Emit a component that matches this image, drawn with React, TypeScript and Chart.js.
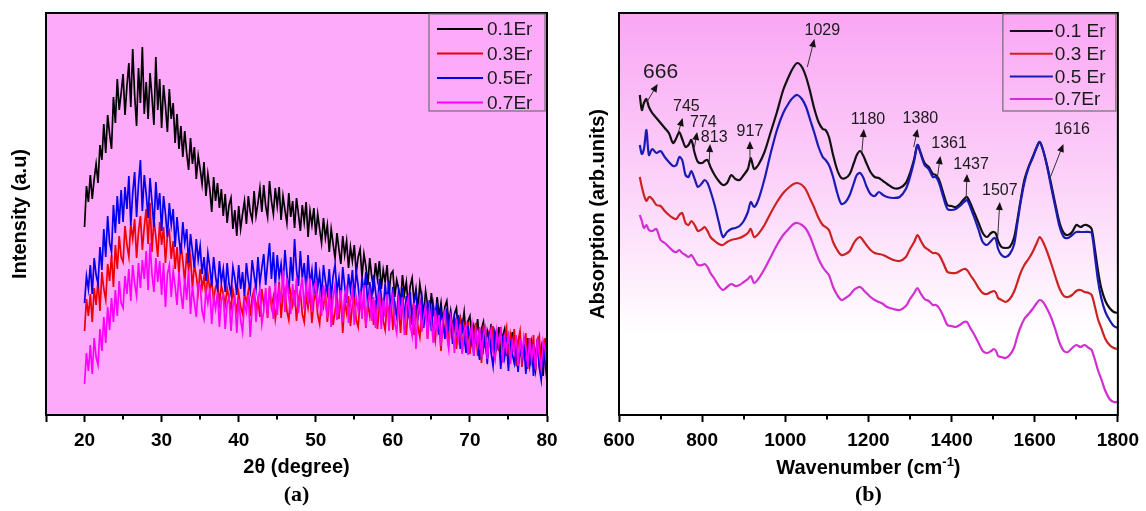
import { useEffect, useRef } from 'react';
import { Chart, registerables } from 'chart.js';

Chart.register(...registerables);

const SANS = '"Liberation Sans", Arial, Helvetica, sans-serif';
const SERIF = '"Liberation Serif", "Times New Roman", serif';

// ---------- (a) XRD patterns: intensity sampled every 0.25° from 20° to 80° ----------
const XRD_START = 20;
const XRD_STEP = 0.25;

const XRD_01ER = [
  188, 229, 213, 240, 216, 236, 251, 232, 270, 255, 291, 262, 300, 281, 266, 318, 292, 336, 305, 322,
  341, 300, 329, 352, 308, 366, 320, 289, 347, 312, 368, 301, 333, 296, 342, 318, 290, 358, 305, 336,
  287, 330, 309, 283, 326, 296, 312, 272, 301, 266, 289, 258, 284, 262, 245, 277, 251, 268, 236, 259,
  246, 231, 253, 219, 241, 226, 203, 238, 214, 232, 207, 226, 199, 221, 192, 210, 217, 186, 205, 179,
  209, 186, 201, 214, 191, 219, 203, 195, 224, 199, 212, 227, 203, 230, 209, 198, 234, 214, 201, 227,
  209, 228, 195, 219, 205, 192, 222, 198, 214, 187, 217, 201, 184, 210, 193, 213, 178, 204, 190, 207,
  180, 201, 186, 172, 197, 177, 190, 163, 186, 171, 157, 182, 166, 151, 179, 160, 174, 147, 168, 154,
  170, 142, 158, 166, 138, 161, 149, 130, 157, 139, 127, 152, 136, 154, 126, 145, 133, 150, 121, 141,
  144, 118, 135, 126, 112, 140, 121, 133, 108, 129, 137, 113, 126, 105, 131, 118, 100, 124, 110, 99,
  122, 103, 96, 118, 99, 112, 91, 108, 114, 92, 104, 86, 101, 107, 83, 97, 88, 103, 78, 94,
  99, 74, 89, 80, 96, 70, 86, 93, 67, 84, 76, 91, 64, 82, 71, 88, 61, 79, 86, 59,
  77, 58, 83, 66, 54, 74, 80, 52, 69, 61, 77, 49, 72, 58, 45, 76, 53, 67, 39, 73,
  36,
];

const XRD_03ER = [
  84, 116, 99, 121, 93, 127, 110, 135, 104, 143, 126, 115, 151, 134, 160, 128, 170, 146, 179, 158,
  153, 189, 170, 158, 191, 176, 196, 157, 183, 199, 165, 188, 206, 171, 212, 163, 196, 178, 158, 193,
  170, 188, 152, 179, 184, 156, 174, 146, 168, 141, 172, 154, 133, 162, 145, 158, 127, 150, 139, 123,
  146, 127, 138, 118, 141, 125, 134, 115, 128, 133, 112, 129, 121, 110, 127, 116, 106, 125, 114, 104,
  122, 108, 101, 120, 113, 124, 99, 118, 125, 105, 116, 98, 126, 110, 121, 97, 127, 108, 118, 96,
  112, 133, 97, 120, 126, 104, 95, 122, 110, 125, 94, 116, 124, 101, 93, 119, 107, 123, 92, 114,
  123, 100, 91, 117, 108, 122, 93, 112, 121, 90, 104, 118, 96, 120, 82, 113, 102, 119, 89, 110,
  119, 95, 88, 114, 103, 118, 87, 111, 99, 118, 90, 115, 86, 108, 117, 94, 85, 112, 100, 116,
  85, 114, 98, 108, 82, 113, 95, 80, 111, 91, 105, 80, 110, 88, 78, 104, 93, 108, 76, 99,
  106, 85, 74, 101, 90, 64, 97, 82, 100, 69, 93, 78, 97, 66, 87, 95, 63, 89, 75, 93,
  61, 88, 74, 92, 59, 83, 52, 90, 70, 57, 85, 66, 89, 55, 80, 64, 88, 53, 76, 87,
  51, 80, 68, 86, 49, 74, 84, 48, 66, 82, 46, 77, 58, 80, 44, 72, 79, 43, 63, 77,
  44,
];

const XRD_05ER = [
  112, 139, 126, 150, 121, 157, 140, 131, 168, 145, 186, 158, 199, 172, 163, 210, 182, 219, 191, 225,
  193, 228, 206, 239, 190, 222, 243, 198, 231, 255, 204, 240, 221, 197, 237, 213, 188, 233, 205, 222,
  184, 219, 201, 178, 212, 190, 206, 168, 198, 176, 161, 193, 172, 186, 152, 181, 164, 147, 176, 155,
  169, 141, 158, 134, 162, 148, 129, 158, 139, 125, 154, 133, 146, 123, 152, 131, 121, 148, 137, 120,
  150, 126, 143, 119, 152, 135, 124, 155, 140, 127, 158, 132, 147, 161, 130, 152, 172, 136, 163, 129,
  160, 138, 151, 129, 165, 142, 121, 158, 134, 176, 145, 129, 164, 137, 152, 124, 160, 131, 145, 121,
  153, 127, 141, 118, 150, 134, 122, 146, 117, 139, 150, 124, 137, 114, 148, 129, 112, 141, 125, 145,
  118, 144, 129, 110, 138, 122, 143, 107, 133, 116, 140, 124, 106, 136, 118, 104, 131, 112, 134, 101,
  128, 108, 99, 124, 112, 127, 94, 119, 103, 123, 90, 114, 121, 97, 108, 118, 87, 112, 98, 115,
  84, 110, 96, 113, 80, 104, 93, 76, 107, 88, 99, 71, 97, 84, 100, 66, 91, 78, 62, 89,
  74, 90, 59, 84, 70, 55, 86, 66, 79, 51, 83, 62, 49, 80, 67, 75, 46, 79, 58, 72,
  44, 75, 61, 52, 73, 43, 68, 57, 73, 41, 65, 50, 72, 39, 62, 73, 47, 35, 70, 55,
  33,
];

const XRD_07ER = [
  31, 62, 44, 70, 41, 77, 58, 50, 86, 64, 98, 72, 108, 85, 117, 93, 125, 99, 134, 112,
  107, 139, 121, 146, 114, 150, 132, 119, 152, 127, 155, 136, 164, 125, 172, 141, 123, 157, 133, 154,
  120, 152, 108, 141, 150, 118, 144, 129, 110, 143, 122, 106, 137, 115, 145, 101, 129, 112, 98, 131,
  130, 104, 96, 124, 112, 127, 91, 118, 106, 123, 88, 115, 120, 86, 111, 118, 84, 109, 117, 82,
  116, 95, 83, 112, 103, 120, 78, 108, 122, 93, 117, 125, 91, 104, 127, 98, 129, 113, 96, 132,
  100, 126, 112, 145, 103, 137, 118, 101, 131, 109, 137, 102, 124, 138, 106, 130, 115, 137, 103, 128,
  133, 106, 121, 99, 130, 114, 97, 127, 88, 118, 130, 95, 109, 125, 93, 120, 127, 92, 113, 124,
  90, 117, 105, 124, 96, 130, 88, 112, 123, 94, 118, 87, 109, 123, 86, 115, 98, 121, 84, 108,
  120, 92, 82, 114, 101, 118, 80, 109, 117, 90, 79, 112, 66, 104, 113, 83, 98, 110, 76, 106,
  93, 72, 105, 84, 100, 69, 95, 103, 79, 66, 98, 88, 62, 96, 76, 91, 61, 84, 90, 60,
  77, 90, 59, 85, 70, 88, 58, 80, 87, 56, 74, 86, 63, 55, 84, 71, 83, 52, 77, 65,
  82, 51, 73, 62, 80, 49, 76, 58, 78, 68, 48, 77, 55, 71, 46, 77, 60, 47, 74, 66,
  48,
];

const XRD_LABELS = ['0.1Er', '0.3Er', '0.5Er', '0.7Er'];
const XRD_COLORS = ['#000000', '#ee0000', '#0000ee', '#ff00ff'];
const XRD_TICKS = [15, 20, 30, 40, 50, 60, 70, 80];
const XRD_MINOR = [25, 35, 45, 55, 65, 75];

// ---------- (b) FTIR absorption spectra ----------
const WAVENUMBER = [
  650, 655, 660, 666, 672, 680, 690, 700, 710, 720,
  730, 738, 745, 752, 760, 767, 774, 782, 790, 800,
  806, 813, 820, 830, 840, 850, 860, 870, 880, 890,
  900, 910, 917, 925, 935, 950, 965, 980, 995, 1010,
  1020, 1029, 1040, 1050, 1060, 1070, 1080, 1090, 1097, 1105,
  1115, 1125, 1135, 1145, 1155, 1165, 1172, 1180, 1188, 1195,
  1205, 1215, 1225, 1235, 1245, 1260, 1275, 1290, 1300, 1310,
  1318, 1325, 1335, 1345, 1355, 1362, 1370, 1380, 1390, 1400,
  1410, 1420, 1430, 1437, 1445, 1455, 1465, 1475, 1485, 1495,
  1502, 1507, 1512, 1520, 1530, 1540, 1550, 1557, 1565, 1575,
  1585, 1595, 1605, 1612, 1620, 1630, 1640, 1650, 1660, 1670,
  1680, 1690, 1700, 1710, 1720, 1730, 1737, 1745, 1752, 1760,
  1770, 1780, 1790, 1800,
];

const FTIR_01ER = [
  320, 305, 312, 316, 308, 302, 297, 292, 287, 282,
  272, 277, 283, 276, 268, 270, 275, 262, 253, 252,
  254, 255, 248, 240, 234, 230, 232, 240, 236, 235,
  240, 246, 257, 246, 250, 263, 283, 303, 325, 340,
  348, 352, 348, 338, 323, 306, 293, 286, 285, 278,
  260, 245, 237, 237, 241, 252, 260, 264, 259, 252,
  243, 238, 237, 234, 231, 227, 227, 232, 242, 256,
  270, 263, 252, 248, 241, 240, 235, 222, 210, 209,
  208, 211, 216, 218, 212, 202, 192, 182, 178, 182,
  183, 181, 174, 168, 167, 168, 177, 192, 212, 235,
  248, 258, 268, 273, 265, 249, 230, 210, 192, 182,
  180, 183, 190, 188, 190, 189, 186, 165, 145, 127,
  114, 107, 103, 102,
];

const FTIR_03ER = [
  238, 228, 220, 214, 218, 216, 210, 209, 204, 200,
  197, 196, 200, 202, 192, 190, 194, 190, 184, 186,
  188, 184, 178, 174, 171, 170, 173, 175, 176, 177,
  179, 182, 186, 178, 181, 190, 202, 213, 222, 228,
  231, 232, 230, 225, 216, 207, 197, 190, 188, 185,
  173, 165, 160, 161, 164, 172, 176, 178, 174, 170,
  165, 162, 161, 160, 158, 155, 154, 158, 166, 173,
  180, 175, 168, 165, 162, 162, 160, 152, 143, 142,
  142, 144, 146, 145, 140, 134, 127, 122, 121, 123,
  124, 122, 117, 115, 113, 116, 123, 131, 141, 150,
  156, 163, 172, 178, 173, 163, 151, 138, 126, 119,
  118, 120, 124, 125, 123, 122, 120, 108, 96, 87,
  76, 70, 67, 66,
];

const FTIR_05ER = [
  270, 261, 266, 285, 260, 266, 262, 264, 258, 253,
  249, 250, 258, 255, 240, 238, 244, 236, 228, 232,
  235, 232, 224, 210, 193, 178, 183, 186, 187, 189,
  194, 203, 213, 208, 215, 236, 262, 285, 302, 313,
  318, 320, 316, 308, 295, 282, 268, 258, 255, 250,
  238, 222, 211, 213, 220, 232, 240, 242, 237, 229,
  221, 219, 223, 220, 218, 217, 218, 226, 238, 254,
  270, 262, 250, 246, 238, 238, 232, 218, 206, 205,
  206, 209, 213, 215, 208, 197, 185, 173, 170, 174,
  177, 175, 166, 160, 158, 161, 170, 188, 210, 232,
  247, 257, 268, 273, 265, 248, 227, 207, 188, 178,
  177, 180, 183, 183, 183, 183, 182, 158, 135, 117,
  103, 95, 89, 87,
];

const FTIR_07ER = [
  200, 194, 187, 190, 185, 184, 186, 175, 172, 168,
  164, 163, 165, 162, 160, 158, 160, 155, 150, 150,
  151, 148, 142, 136, 129, 125, 128, 131, 129, 130,
  133, 136, 139, 132, 136, 146, 158, 170, 180, 187,
  191, 192, 190, 186, 178, 167, 156, 148, 144, 140,
  128, 120, 115, 117, 120, 125, 127, 128, 125, 122,
  118, 115, 113, 111, 108, 106, 105, 109, 116, 122,
  127, 122, 116, 114, 110, 110, 107, 99, 90, 89,
  88, 90, 93, 93, 87, 80, 72, 64, 62, 64,
  66, 64, 59, 58, 57, 60, 67, 77, 87, 96,
  101, 106, 112, 115, 113, 106, 97, 85, 72, 64,
  63, 67, 70, 68, 70, 67, 65, 55, 45, 36,
  24, 16, 13, 13,
];

const FTIR_LABELS = ['0.1 Er', '0.3 Er', '0.5 Er', '0.7Er'];
const FTIR_COLORS = ['#111111', '#cc2222', '#1a1ab4', '#d22fd2'];
const FTIR_TICKS = [600, 800, 1000, 1200, 1400, 1600, 1800];
const FTIR_MINOR = [700, 900, 1100, 1300, 1500, 1700];

// Band assignments: label, label anchor (wavenumber, absorption) and arrow tail -> head
const PEAK_NAMES = ['666', '745', '774', '813', '917', '1029', '1180', '1380', '1361', '1437', '1507', '1616'];
const PEAK_LABEL_AT = [
  [700, 343], [762, 308], [803, 292], [829, 277], [915, 283], [1089, 384],
  [1199, 295], [1325, 296], [1394, 271], [1447, 250], [1516, 224], [1690, 285],
];
const PEAK_ARROWS = [
  [667, 313, 693, 331], [743, 283, 753, 297], [781, 267, 788, 283], [817, 252, 819, 271],
  [915, 255, 915, 274], [1053, 348, 1070, 376], [1184, 262, 1189, 286], [1309, 268, 1318, 286],
  [1366, 238, 1373, 259], [1435, 217, 1437, 241], [1511, 178, 1516, 213], [1635, 235, 1669, 271],
];

type LegendSpec = {
  labels: string[];
  colors: string[];
  width: number;
  height: number;
  firstRow: number;
  rowGap: number;
  lineStart: number;
  lineEnd: number;
  textX: number;
};

type DecorSpec = {
  fill: (ctx: CanvasRenderingContext2D, a: any) => string | CanvasGradient;
  minor: number[];
  legend: LegendSpec;
  tag: string;
  wavenumberTitle: boolean;
  peaks: boolean;
};

function makeDecor(d: DecorSpec) {
  return {
    id: 'panelDecor',
    beforeDraw(chart: any) {
      const { ctx, chartArea: a } = chart;
      ctx.save();
      ctx.fillStyle = d.fill(ctx, a);
      ctx.fillRect(a.left, a.top, a.right - a.left, a.bottom - a.top);
      ctx.restore();
    },
    afterDatasetsDraw(chart: any) {
      if (!d.peaks) return;
      const { ctx } = chart;
      const xs = chart.scales.x;
      const ys = chart.scales.y;
      ctx.save();
      PEAK_NAMES.forEach((name, i) => {
        const [x0, y0, x1, y1] = PEAK_ARROWS[i];
        const px0 = xs.getPixelForValue(x0);
        const py0 = ys.getPixelForValue(y0);
        const px1 = xs.getPixelForValue(x1);
        const py1 = ys.getPixelForValue(y1);
        const ang = Math.atan2(py1 - py0, px1 - px0);
        const head = 8;
        ctx.strokeStyle = '#333';
        ctx.lineWidth = 1;
        ctx.beginPath();
        ctx.moveTo(px0, py0);
        ctx.lineTo(px1 - Math.cos(ang) * head * 0.6, py1 - Math.sin(ang) * head * 0.6);
        ctx.stroke();
        ctx.fillStyle = '#111';
        ctx.beginPath();
        ctx.moveTo(px1, py1);
        ctx.lineTo(px1 - Math.cos(ang) * head + Math.sin(ang) * 3.5, py1 - Math.sin(ang) * head - Math.cos(ang) * 3.5);
        ctx.lineTo(px1 - Math.cos(ang) * head - Math.sin(ang) * 3.5, py1 - Math.sin(ang) * head + Math.cos(ang) * 3.5);
        ctx.closePath();
        ctx.fill();
        const [tx, ty] = PEAK_LABEL_AT[i];
        ctx.fillStyle = '#1a1a1a';
        ctx.font = `${name === '666' ? 21 : 16}px ${SANS}`;
        ctx.textAlign = 'center';
        ctx.textBaseline = 'middle';
        ctx.fillText(name, xs.getPixelForValue(tx), ys.getPixelForValue(ty));
      });
      ctx.restore();
    },
    afterDraw(chart: any) {
      const { ctx, chartArea: a } = chart;
      const xs = chart.scales.x;
      ctx.save();
      // minor ticks
      ctx.strokeStyle = '#000';
      ctx.lineWidth = 2;
      d.minor.forEach((v) => {
        const px = Math.round(xs.getPixelForValue(v));
        ctx.beginPath();
        ctx.moveTo(px, a.bottom);
        ctx.lineTo(px, a.bottom + 4.5);
        ctx.stroke();
      });
      // frame
      ctx.strokeRect(a.left, a.top, a.right - a.left, a.bottom - a.top);

      // legend
      const L = d.legend;
      const bx = a.right - 2 - L.width;
      const by = a.top + 1;
      ctx.strokeStyle = '#6e6e6e';
      ctx.lineWidth = 1.2;
      ctx.strokeRect(bx, by, L.width, L.height);
      ctx.font = `19px ${SANS}`;
      ctx.textAlign = 'left';
      ctx.textBaseline = 'middle';
      L.labels.forEach((lab, i) => {
        const ry = by + L.firstRow + i * L.rowGap;
        ctx.strokeStyle = L.colors[i];
        ctx.lineWidth = 2;
        ctx.beginPath();
        ctx.moveTo(bx + L.lineStart, ry);
        ctx.lineTo(bx + L.lineEnd, ry);
        ctx.stroke();
        ctx.fillStyle = '#1a1a1a';
        ctx.fillText(lab, bx + L.textX, ry + 1);
      });

      const cx = (a.left + a.right) / 2;
      // x-axis title with superscript
      if (d.wavenumberTitle) {
        const main = 'Wavenumber (cm';
        const sup = '-1';
        const close = ')';
        ctx.fillStyle = '#000';
        ctx.textBaseline = 'alphabetic';
        ctx.font = `bold 20px ${SANS}`;
        const w1 = ctx.measureText(main).width;
        const w3 = ctx.measureText(close).width;
        ctx.font = `bold 13px ${SANS}`;
        const w2 = ctx.measureText(sup).width;
        let x = cx - (w1 + w2 + w3) / 2;
        const base = a.bottom + 59;
        ctx.font = `bold 20px ${SANS}`;
        ctx.fillText(main, x, base);
        x += w1;
        ctx.font = `bold 13px ${SANS}`;
        ctx.fillText(sup, x, base - 8);
        x += w2;
        ctx.font = `bold 20px ${SANS}`;
        ctx.fillText(close, x, base);
      }

      // panel tag
      ctx.fillStyle = '#000';
      ctx.font = `bold 22px ${SERIF}`;
      ctx.textAlign = 'center';
      ctx.textBaseline = 'middle';
      ctx.fillText(d.tag, cx, a.bottom + 80);
      ctx.restore();
    },
  };
}

type AxisSpec = {
  min: number;
  max: number;
  ticks: number[];
  hideMinLabel: boolean;
  xTitle: string;
  yTitle: string;
  yTitlePad: number;
  padRight: number;
};

function panelOptions(p: AxisSpec): any {
  const titleFont = { family: SANS, size: 20, weight: 'bold' as const };
  return {
    responsive: false,
    animation: false,
    devicePixelRatio: 1,
    layout: { padding: { left: 0, top: 13, right: p.padRight, bottom: 0 } },
    plugins: {
      legend: { display: false },
      tooltip: { enabled: false },
      title: { display: false },
    },
    elements: { point: { radius: 0 } },
    scales: {
      x: {
        type: 'linear',
        min: p.min,
        max: p.max,
        afterBuildTicks: (s: any) => {
          s.ticks = p.ticks.map((v) => ({ value: v }));
        },
        afterFit: (s: any) => {
          s.height = 96;
        },
        ticks: {
          color: '#000',
          padding: 7,
          autoSkip: false,
          maxRotation: 0,
          font: { family: SANS, size: 19, weight: 'bold' },
          callback: (v: number) => (p.hideMinLabel && v === p.min ? '' : String(v)),
        },
        grid: {
          display: true,
          drawOnChartArea: false,
          drawTicks: true,
          tickLength: 7,
          tickWidth: 2,
          tickColor: '#000',
        },
        border: { display: true, color: '#000', width: 2 },
        title: {
          display: p.xTitle !== '',
          text: p.xTitle,
          color: '#000',
          font: titleFont,
          padding: { top: 0, bottom: 32 },
        },
      },
      y: {
        type: 'linear',
        min: 0,
        max: 402,
        afterFit: (s: any) => {
          s.width = 46;
        },
        ticks: { display: false },
        grid: { display: false },
        border: { display: true, color: '#000', width: 2 },
        title: {
          display: true,
          text: p.yTitle,
          color: '#000',
          font: titleFont,
          padding: { top: p.yTitlePad, bottom: 0 },
        },
      },
    },
  };
}

const xrdPoints = (vals: number[]) => vals.map((y, i) => ({ x: XRD_START + i * XRD_STEP, y }));
const ftirPoints = (vals: number[]) => WAVENUMBER.map((x, i) => ({ x, y: vals[i] }));

export default function App() {
  const leftRef = useRef<HTMLCanvasElement | null>(null);
  const rightRef = useRef<HTMLCanvasElement | null>(null);

  useEffect(() => {
    if (!leftRef.current || !rightRef.current) return;
    Chart.defaults.font.family = SANS;

    const xrdSeries = [XRD_01ER, XRD_03ER, XRD_05ER, XRD_07ER];
    // last-listed concentration is painted on top
    const xrdOrder = [3, 2, 1, 0];
    const left = new Chart(leftRef.current, {
      type: 'line',
      data: {
        datasets: xrdOrder.map((k) => ({
          label: XRD_LABELS[k],
          data: xrdPoints(xrdSeries[k]),
          borderColor: XRD_COLORS[k],
          borderWidth: 1.7,
          pointRadius: 0,
          tension: 0,
          fill: false,
        })),
      },
      options: panelOptions({
        min: 15,
        max: 80,
        ticks: XRD_TICKS,
        hideMinLabel: true,
        xTitle: '2θ (degree)',
        yTitle: 'Intensity (a.u)',
        yTitlePad: 8,
        padRight: 26,
      }),
      plugins: [
        makeDecor({
          fill: () => 'rgb(253,170,250)',
          minor: XRD_MINOR,
          legend: {
            labels: XRD_LABELS,
            colors: XRD_COLORS,
            width: 116,
            height: 97,
            firstRow: 15,
            rowGap: 24.5,
            lineStart: 8,
            lineEnd: 54,
            textX: 58,
          },
          tag: '(a)',
          wavenumberTitle: false,
          peaks: false,
        }),
      ],
    });

    const ftirSeries = [FTIR_01ER, FTIR_03ER, FTIR_05ER, FTIR_07ER];
    const ftirOrder = [2, 0, 1, 3];
    const right = new Chart(rightRef.current, {
      type: 'line',
      data: {
        datasets: ftirOrder.map((k) => ({
          label: FTIR_LABELS[k],
          data: ftirPoints(ftirSeries[k]),
          borderColor: FTIR_COLORS[k],
          borderWidth: 2.2,
          pointRadius: 0,
          tension: 0.3,
          fill: false,
        })),
      },
      options: panelOptions({
        min: 600,
        max: 1800,
        ticks: FTIR_TICKS,
        hideMinLabel: false,
        xTitle: '',
        yTitle: 'Absorption (arb.units)',
        yTitlePad: 13,
        padRight: 24,
      }),
      plugins: [
        makeDecor({
          fill: (ctx, a) => {
            const g = ctx.createLinearGradient(0, a.top, 0, a.bottom);
            g.addColorStop(0, 'rgb(250,166,244)');
            g.addColorStop(0.4, 'rgb(252,208,249)');
            g.addColorStop(0.8, 'rgb(255,255,255)');
            g.addColorStop(1, 'rgb(255,255,255)');
            return g;
          },
          minor: FTIR_MINOR,
          legend: {
            labels: FTIR_LABELS,
            colors: FTIR_COLORS,
            width: 113,
            height: 97,
            firstRow: 17,
            rowGap: 22.7,
            lineStart: 7,
            lineEnd: 50,
            textX: 52,
          },
          tag: '(b)',
          wavenumberTitle: true,
          peaks: true,
        }),
      ],
    });

    return () => {
      left.destroy();
      right.destroy();
    };
  }, []);

  return (
    <div style={{ position: 'fixed', left: 0, top: 0, width: 1146, height: 511, background: '#fff' }}>
      <canvas ref={leftRef} width={573} height={511} style={{ position: 'absolute', left: 0, top: 0 }} />
      <canvas ref={rightRef} width={573} height={511} style={{ position: 'absolute', left: 573, top: 0 }} />
    </div>
  );
}
